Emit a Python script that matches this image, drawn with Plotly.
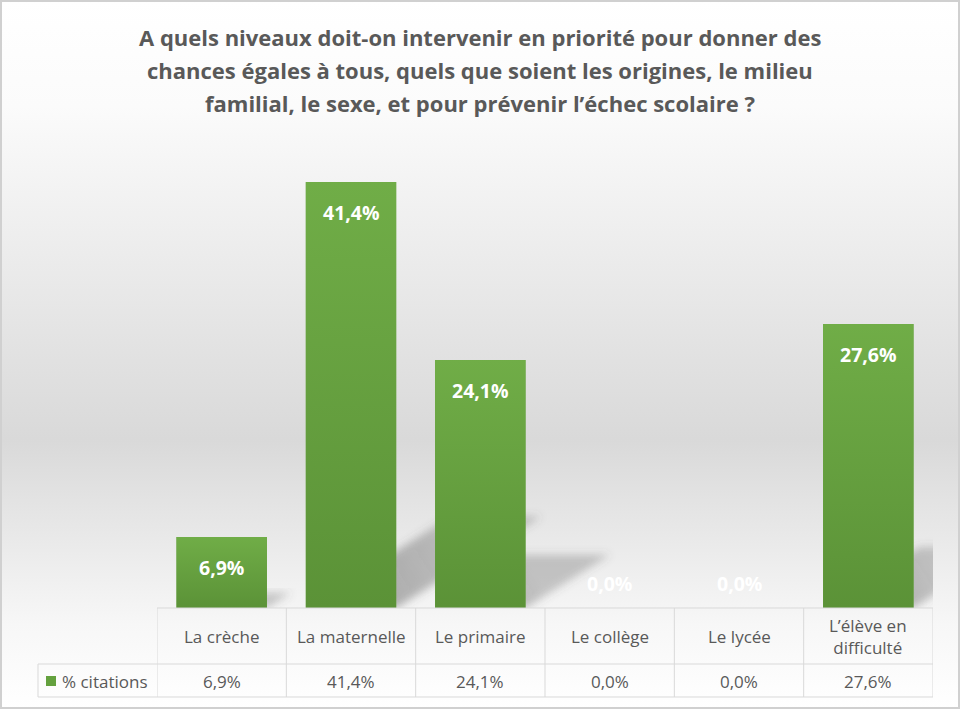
import base64
import plotly.graph_objects as go

# données
categories = ["La crèche", "La maternelle", "Le primaire", "Le collège",
              "Le lycée", "L’élève en<br>difficulté"]
values = [6.9, 41.4, 24.1, 0.0, 0.0, 27.6]
series_name = "% citations"
title_lines = [
    "A quels niveaux doit-on intervenir en priorité pour donner des",
    "chances égales à tous, quels que soient les origines, le milieu",
    "familial, le sexe, et pour prévenir l’échec scolaire ?",
]

W, H = 960, 709
L, R, T, B = 157, 933, 145, 608   # zone de tracé en pixels
Y_MAX = 45
BAR_W = 0.7
GREEN = "#64a13e"
TXT = "#595959"
GRID = "#d9d9d9"
FONT = "Open Sans"

PX_X = (R - L) / len(categories)   # pixels par unité x
PX_Y = (B - T) / Y_MAX             # pixels par unité y


def px_x(p):
    return (p - L) / (R - L)


def px_y(p):
    return (B - p) / (B - T)


def fr(v):
    return f"{v:.1f}%".replace(".", ",")


def svg_uri(svg):
    return "data:image/svg+xml;base64," + base64.b64encode(svg.encode()).decode()


# dégradés (fond et barres)
bg_svg = (
    '<svg xmlns="http://www.w3.org/2000/svg" width="100" height="100" '
    'viewBox="0 0 100 100" preserveAspectRatio="none">'
    '<defs><linearGradient id="g" x1="0" y1="0" x2="0" y2="1">'
    '<stop offset="0" stop-color="#ffffff"/>'
    '<stop offset="0.15" stop-color="#fbfbfb"/>'
    '<stop offset="0.62" stop-color="#d9d9d9"/>'
    '<stop offset="0.88" stop-color="#f7f7f7"/>'
    '<stop offset="1" stop-color="#ffffff"/>'
    '</linearGradient></defs>'
    '<rect width="100" height="100" fill="url(#g)"/></svg>'
)
bar_svg = (
    '<svg xmlns="http://www.w3.org/2000/svg" width="10" height="100" '
    'viewBox="0 0 10 100" preserveAspectRatio="none">'
    '<defs><linearGradient id="g" x1="0" y1="0" x2="0" y2="1">'
    '<stop offset="0" stop-color="#70ad47"/>'
    '<stop offset="1" stop-color="#5b9237"/>'
    '</linearGradient></defs>'
    '<rect width="10" height="100" fill="url(#g)"/></svg>'
)


def shadow_svg(h):
    # ombre portée en perspective, vers le haut à droite
    bw = BAR_W * PX_X
    dx, dy = 0.34 * h, 0.215 * h
    pad = 20
    w, hh = bw + dx + pad, dy + pad
    pts = f"0,{hh} {bw},{hh} {bw + dx},{hh - dy} {dx},{hh - dy}"
    svg = (
        f'<svg xmlns="http://www.w3.org/2000/svg" width="{w:.1f}" height="{hh:.1f}" '
        f'viewBox="0 0 {w:.1f} {hh:.1f}" preserveAspectRatio="none">'
        '<defs><filter id="b" x="-30%" y="-30%" width="160%" height="160%">'
        '<feGaussianBlur stdDeviation="4"/></filter>'
        f'<linearGradient id="s" gradientUnits="userSpaceOnUse" x1="0" y1="{hh}" '
        f'x2="{dx:.1f}" y2="{hh - dy:.1f}">'
        '<stop offset="0" stop-color="#555555" stop-opacity="0.55"/>'
        '<stop offset="1" stop-color="#555555" stop-opacity="0.3"/>'
        '</linearGradient></defs>'
        f'<polygon points="{pts}" fill="url(#s)" filter="url(#b)"/></svg>'
    )
    return svg, w, hh


x_idx = list(range(len(categories)))

fig = go.Figure(go.Bar(
    x=x_idx, y=values, width=BAR_W,
    marker=dict(color=GREEN, line=dict(width=0)),
    hoverinfo="skip",
))

images = [dict(
    source=svg_uri(bg_svg), xref="paper", yref="paper",
    x=px_x(0), y=px_y(0), sizex=px_x(W) - px_x(0), sizey=px_y(0) - px_y(H),
    xanchor="left", yanchor="top", sizing="stretch", layer="below",
)]
for i, v in zip(x_idx, values):
    if v > 0:
        svg, w, hh = shadow_svg(v * PX_Y)
        images.append(dict(
            source=svg_uri(svg), xref="x", yref="y",
            x=i - BAR_W / 2, y=0, sizex=w / PX_X, sizey=hh / PX_Y,
            xanchor="left", yanchor="bottom", sizing="stretch", layer="below",
        ))
        images.append(dict(
            source=svg_uri(bar_svg), xref="x", yref="y",
            x=i - BAR_W / 2, y=v, sizex=BAR_W, sizey=v,
            xanchor="left", yanchor="top", sizing="stretch", layer="above",
        ))

annotations = []
# titre
for k, line in enumerate(title_lines):
    annotations.append(dict(
        text=line, xref="paper", yref="paper", x=px_x(W / 2), y=px_y(37 + 33 * k),
        xanchor="center", yanchor="middle", showarrow=False,
        font=dict(family=FONT, size=22, color=TXT, weight="bold"),
    ))

# étiquettes de données
for i, v in zip(x_idx, values):
    if v > 3:
        annotations.append(dict(
            text=fr(v), x=i, y=v, yanchor="top", yshift=-15, showarrow=False,
            font=dict(family=FONT, size=19.5, color="white", weight="bold"),
        ))
    else:
        annotations.append(dict(
            text=fr(v), x=i, y=0, yanchor="bottom", yshift=9, showarrow=False,
            font=dict(family=FONT, size=19.5, color="white", weight="bold"),
        ))

# table de données
for i, (c, v) in enumerate(zip(categories, values)):
    annotations.append(dict(
        text=c, x=i, xref="x", yref="paper", y=px_y(636), yanchor="middle",
        showarrow=False, font=dict(family=FONT, size=17, color=TXT),
    ))
    annotations.append(dict(
        text=fr(v), x=i, xref="x", yref="paper", y=px_y(681), yanchor="middle",
        showarrow=False, font=dict(family=FONT, size=17, color=TXT),
    ))
annotations.append(dict(
    text=series_name, xref="paper", yref="paper", x=px_x(60), y=px_y(681),
    xanchor="left", yanchor="middle", showarrow=False,
    font=dict(family=FONT, size=17, color=TXT),
))

line = dict(color=GRID, width=1)
shapes = [
    # bordure extérieure
    dict(type="rect", xref="paper", yref="paper",
         x0=px_x(1), x1=px_x(W - 1), y0=px_y(1), y1=px_y(H - 1),
         line=dict(color="#d0d0d0", width=2), layer="above"),
    # lignes horizontales
    dict(type="line", xref="paper", yref="paper", x0=0, x1=1,
         y0=px_y(608), y1=px_y(608), line=line),
    dict(type="line", xref="paper", yref="paper", x0=px_x(38), x1=1,
         y0=px_y(664), y1=px_y(664), line=line),
    dict(type="line", xref="paper", yref="paper", x0=px_x(38), x1=1,
         y0=px_y(697), y1=px_y(697), line=line),
    dict(type="line", xref="paper", yref="paper", x0=px_x(38), x1=px_x(38),
         y0=px_y(664), y1=px_y(697), line=line),
    # carré de légende
    dict(type="rect", xref="paper", yref="paper",
         x0=px_x(46), x1=px_x(56), y0=px_y(676), y1=px_y(686),
         fillcolor=GREEN, line=dict(width=0)),
]
for k in range(len(categories) + 1):
    shapes.append(dict(type="line", xref="x", yref="paper",
                       x0=k - 0.5, x1=k - 0.5, y0=px_y(608), y1=px_y(697),
                       line=line))

fig.update_layout(
    width=W, height=H,
    margin=dict(l=L, r=W - R, t=T, b=H - B),
    paper_bgcolor="white", plot_bgcolor="rgba(0,0,0,0)",
    showlegend=False,
    xaxis=dict(range=[-0.5, len(categories) - 0.5], visible=False, fixedrange=True),
    yaxis=dict(range=[0, Y_MAX], visible=False, fixedrange=True),
    images=images, annotations=annotations, shapes=shapes,
)

fig.write_html("out.html", config={"displayModeBar": False},
               post_script="document.body.style.margin='0';")
